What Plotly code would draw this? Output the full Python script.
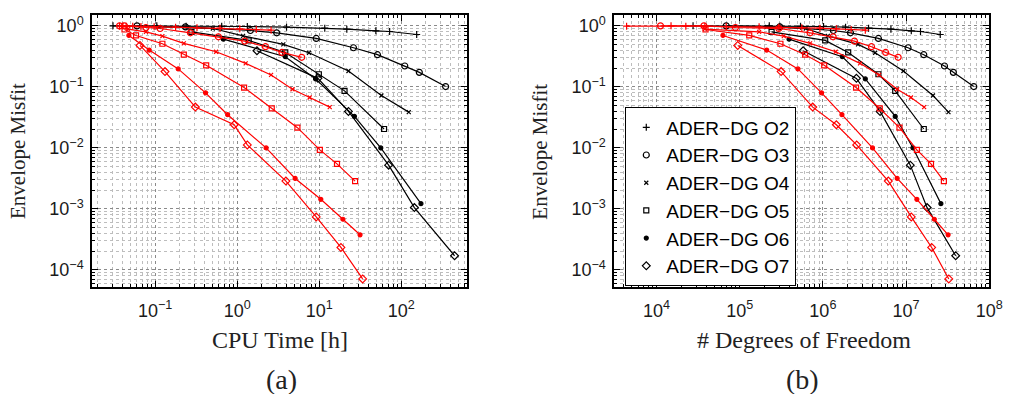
import plotly.graph_objects as go

# ---------------- data ----------------
orders = ["O2", "O3", "O4", "O5", "O6", "O7"]

# (a) CPU time [h]  -- black: ADER-DG, red: second method
cpu_black = {
    "O2": [0.0306, 0.1047, 0.2385, 0.6475, 1.330, 4.00, 11.70, 21.73, 49.1, 72.3, 154.5],
    "O3": [0.0601, 0.234, 1.449, 3.034, 9.204, 26.2, 51.4, 110.6, 166.4, 348.3],
    "O4": [0.1117, 0.5047, 1.180, 3.651, 7.509, 22.75, 57.4, 123.7],
    "O5": [0.2767, 1.382, 3.858, 9.908, 20.38, 61.8],
    "O6": [0.678, 3.858, 9.036, 26.9, 56.4, 174.2],
    "O7": [1.742, 9.638, 22.75, 70.3, 144.8, 447.5],
}
cpu_red = {
    "O2": [0.0368, 0.0404, 0.0443, 0.0533, 0.0671, 0.0972, 0.1774, 0.3236, 0.618, 1.076, 1.711, 2.591],
    "O3": [0.0368, 0.0423, 0.0772, 0.1149, 0.269, 0.5904, 1.236, 2.215, 3.518, 6.124],
    "O4": [0.0465, 0.0772, 0.1225, 0.2235, 0.5534, 1.270, 2.591, 4.728, 7.650, 13.45],
    "O5": [0.0423, 0.0585, 0.1225, 0.2235, 0.419, 1.214, 2.640, 5.429, 10.19, 16.49, 27.4],
    "O6": [0.0478, 0.0847, 0.191, 0.4115, 0.765, 2.255, 5.091, 10.47, 19.47, 31.5],
    "O7": [0.0653, 0.1318, 0.309, 0.9204, 1.33, 3.928, 9.204, 18.42, 33.9],
}
# (b) degrees of freedom
dof_black = {
    "O2": [27480, 226800, 303500, 538600, 1.018e6, 1.874e6, 3.543e6, 6.58e6, 1.156e7, 1.492e7, 2.577e7],
    "O3": [68860, 303500, 1.337e6, 2.147e6, 4.655e6, 1.057e7, 1.634e7, 2.9e7, 3.706e7, 6.52e7],
    "O4": [211000, 623000, 1.147e6, 2.648e6, 4.249e6, 9.30e6, 2.108e7, 3.236e7],
    "O5": [241700, 1.066e6, 2.015e6, 4.655e6, 7.41e6, 1.634e7],
    "O6": [391800, 1.71e6, 3.238e6, 7.41e6, 1.211e7, 2.625e7],
    "O7": [579200, 2.53e6, 4.874e6, 1.125e7, 1.791e7, 3.953e7],
}
dof_red = {
    "O2": [4365, 14930, 22490, 38100, 68860, 171100, 295300, 558500, 920700, 1.452e6, 2.188e6, 3.238e6],
    "O3": [11150, 37070, 88860, 295300, 701000, 1.327e6, 2.395e6, 3.845e6, 5.69e6, 8.04e6],
    "O4": [38100, 171100, 338700, 701000, 1.426e6, 2.797e6, 4.742e6, 7.82e6, 1.146e7, 1.65e7],
    "O5": [38800, 130200, 308700, 612000, 1.038e6, 2.506e6, 4.831e6, 8.34e6, 1.35e7, 1.996e7, 2.85e7],
    "O6": [62850, 211000, 500900, 964000, 1.695e6, 3.953e6, 7.82e6, 1.35e7, 2.188e7, 3.206e7],
    "O7": [94700, 314600, 754500, 1.452e6, 2.55e6, 6.12e6, 1.156e7, 2.033e7, 3.266e7],
}
# envelope misfit (shared by both panels)
misfit_black = {
    "O2": [1.0, 1.0, 0.988, 0.988, 0.975, 0.951, 0.916, 0.882, 0.829, 0.808, 0.722],
    "O3": [1.0, 0.963, 0.839, 0.769, 0.622, 0.438, 0.337, 0.220, 0.173, 0.1012],
    "O4": [0.963, 0.905, 0.687, 0.496, 0.363, 0.182, 0.0722, 0.0386],
    "O5": [0.798, 0.577, 0.367, 0.161, 0.0861, 0.0204],
    "O6": [0.606, 0.312, 0.135, 0.0328, 0.0100, 0.001222],
    "O7": [0.391, 0.138, 0.0396, 0.00522, 0.001051, 0.000171],
}
misfit_red = {
    "O2": [0.988, 1.0, 0.988, 0.988, 0.975, 0.963, 0.951, 0.928, 0.916, 0.894, 0.871, 0.850],
    "O3": [1.0, 1.0, 0.939, 0.905, 0.769, 0.662, 0.562, 0.455, 0.367, 0.305],
    "O4": [0.882, 0.798, 0.678, 0.515, 0.377, 0.243, 0.157, 0.0916, 0.067, 0.0466],
    "O5": [0.871, 0.696, 0.509, 0.337, 0.2255, 0.0975, 0.0443, 0.02146, 0.00928, 0.00548, 0.00286],
    "O6": [0.696, 0.401, 0.197, 0.0798, 0.035, 0.0100, 0.00316, 0.001438, 0.000678, 0.000377],
    "O7": [0.478, 0.178, 0.0466, 0.024, 0.0112, 0.00286, 0.00074, 0.000234, 0.0000713],
}
legend_names = ["ADER−DG O2", "ADER−DG O3", "ADER−DG O4", "ADER−DG O5", "ADER−DG O6", "ADER−DG O7"]

x1_ticks = [0.1, 1, 10, 100]
x1_labels = ["10<sup>−1</sup>", "10<sup>0</sup>", "10<sup>1</sup>", "10<sup>2</sup>"]
x2_ticks = [1e4, 1e5, 1e6, 1e7, 1e8]
x2_labels = ["10<sup>4</sup>", "10<sup>5</sup>", "10<sup>6</sup>", "10<sup>7</sup>", "10<sup>8</sup>"]
y_ticks = [1e-4, 1e-3, 1e-2, 1e-1, 1]
y_labels = ["10<sup>−4</sup>", "10<sup>−3</sup>", "10<sup>−2</sup>", "10<sup>−1</sup>", "10<sup>0</sup>"]

# ---------------- styles ----------------
markers = {
    "O2": dict(symbol="cross-thin-open", size=5),
    "O3": dict(symbol="circle-open", size=6),
    "O4": dict(symbol="x-thin-open", size=4),
    "O5": dict(symbol="square-open", size=5),
    "O6": dict(symbol="circle", size=4),
    "O7": dict(symbol="diamond-open", size=6),
}

fig = go.Figure()

def add_series(xdata, ydata, color, xa, ya):
    for o in orders:
        m = markers[o]
        fig.add_trace(go.Scatter(
            x=xdata[o], y=ydata[o], mode="lines+markers", xaxis=xa, yaxis=ya,
            line=dict(color=color, width=1.2),
            marker=dict(symbol=m["symbol"], size=m["size"], color=color,
                        line=dict(color=color, width=1.2)),
            showlegend=False, hoverinfo="skip"))

add_series(cpu_black, misfit_black, "black", "x", "y")
add_series(cpu_red, misfit_red, "#ff0000", "x", "y")
add_series(dof_black, misfit_black, "black", "x2", "y2")
add_series(dof_red, misfit_red, "#ff0000", "x2", "y2")

# legend-only entries (markers only)
for o, name in zip(orders, legend_names):
    m = markers[o]
    fig.add_trace(go.Scatter(
        x=[None], y=[None], mode="markers", xaxis="x2", yaxis="y2", name=name,
        marker=dict(symbol=m["symbol"], size=m["size"], color="black",
                    line=dict(color="black", width=1.2)),
        showlegend=True))

W, H = 1018, 394

def minor_vals(e0, e1):
    return [k * 10.0 ** e for e in range(e0, e1 + 1) for k in range(2, 10)]

def axis(rng, tv, tt, mv, dom, anchor, standoff):
    return dict(
        type="log", range=rng, domain=dom, anchor=anchor,
        showline=True, linecolor="black", linewidth=1.5, mirror="allticks",
        ticks="inside", ticklen=6, tickwidth=1, tickcolor="black",
        tickmode="array", tickvals=tv, ticktext=tt, ticklabelstandoff=standoff,
        tickfont=dict(family="Liberation Sans, Arial, sans-serif", size=18, color="#1a1a1a"),
        showgrid=True, gridcolor="#8a8a8a", griddash="dot", gridwidth=1,
        minor=dict(tickmode="array", tickvals=mv, ticks="inside", ticklen=3,
                   tickcolor="black", tickwidth=1, showgrid=True,
                   gridcolor="#bdbdbd", griddash="dot", gridwidth=1),
        zeroline=False, fixedrange=True,
    )

ydom = [1 - 286.7 / H, 1 - 13.3 / H]
fig.update_layout(
    width=W, height=H,
    margin=dict(l=0, r=0, t=0, b=0),
    paper_bgcolor="white", plot_bgcolor="white",
    xaxis=axis([-1.77, 2.80], x1_ticks, x1_labels, minor_vals(-2, 2),
               [93.3 / W, 473.3 / W], "y", 6),
    yaxis=axis([-4.283, 0.174], y_ticks, y_labels, minor_vals(-5, 0), ydom, "x", 3),
    xaxis2=axis([3.49, 8.0], x2_ticks, x2_labels, minor_vals(3, 7),
                [622.7 / W, 1003 / W], "y2", 6),
    yaxis2=axis([-4.283, 0.174], y_ticks, y_labels, minor_vals(-5, 0), ydom, "x2", 3),
    legend=dict(x=634 / W, y=1 - 106 / H, xanchor="left", yanchor="top",
                bordercolor="black", borderwidth=1, bgcolor="white",
                font=dict(family="Liberation Sans, Arial, sans-serif", size=19, color="black"),
                tracegroupgap=0),
    showlegend=True,
)

serif = "Liberation Serif, Times New Roman, serif"
def ann(text, px, py, size, angle=0):
    fig.add_annotation(text=text, x=px / W, y=1 - py / H, xref="paper", yref="paper",
                       showarrow=False, textangle=angle, xanchor="center", yanchor="middle",
                       font=dict(family=serif, size=size, color="#222"))

ann("CPU Time [h]", 284, 340, 24)
ann("# Degrees of Freedom", 815, 340, 24)
ann("Envelope Misfit", 18, 150, 21, -90)
ann("Envelope Misfit", 548, 150, 21, -90)
ann("(a)", 285, 379, 28)
ann("(b)", 814, 379, 28)

fig.write_html("out.html", config={"displayModeBar": False},
               post_script="document.body.style.margin='0px';document.body.style.overflow='hidden';")
